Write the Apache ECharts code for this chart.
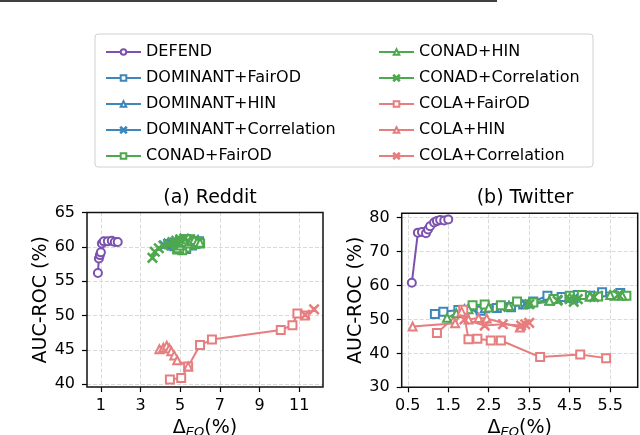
<!DOCTYPE html>
<html>
<head>
<meta charset="utf-8">
<script src="https://cdn.jsdelivr.net/npm/echarts@6/dist/echarts.min.js"></script>
<style>html,body{margin:0;padding:0;background:#fff}#c{width:640px;height:435px}</style>
</head>
<body>
<div id="c"></div>
<script>
// ---- names / ticks ----
var methods = ['DEFEND','DOMINANT+FairOD','DOMINANT+HIN','DOMINANT+Correlation','CONAD+FairOD','CONAD+HIN','CONAD+Correlation','COLA+FairOD','COLA+HIN','COLA+Correlation'];
var redditXTicks = [1,3,5,7,9,11];
var redditYTicks = [40,45,50,55,60,65];
var twitterXTicks = [0.5,1.5,2.5,3.5,4.5,5.5];
var twitterYTicks = [30,40,50,60,70,80];

// ---- Reddit data [ΔEO, AUC-ROC] ----
var redditDEFEND = [[0.85,56.2],[0.9,58.3],[0.95,58.8],[1.0,59.2],[1.05,60.5],[1.15,60.8],[1.35,60.8],[1.55,60.9],[1.7,60.7],[1.85,60.7]];
var redditDominantFairOD = [[4.4,60.4],[4.7,60.1],[5.0,59.8],[5.3,59.7],[5.6,60.2],[5.8,60.5],[5.95,60.8]];
var redditDominantHIN = [[4.5,60.5],[4.8,60.2],[5.0,60.3],[5.3,60.6],[5.6,60.8],[5.9,61.0]];
var redditDominantCorr = [[4.2,60.2],[4.4,60.5],[4.7,60.6],[5.0,60.9],[5.3,61.1]];
var redditConadFairOD = [[4.85,59.6],[4.95,60.0],[5.05,60.4],[5.15,60.8],[5.3,61.1],[5.5,61.1],[5.7,60.9],[5.9,60.7],[6.0,60.5],[5.75,60.4],[5.5,60.3],[5.3,59.9],[5.1,59.5],[4.95,59.7]];
var redditConadHIN = [[4.85,59.8],[5.0,60.2],[5.1,60.6],[5.25,60.7],[5.4,60.5],[5.55,60.8],[5.7,61.0],[5.85,60.7],[6.0,60.6]];
var redditConadCorr = [[3.6,58.4],[3.72,59.3],[3.92,59.8],[4.15,60.2],[4.4,60.4],[4.6,60.7],[4.8,60.9],[5.0,61.1],[5.2,61.2]];
var redditColaFairOD = [[4.48,40.7],[5.05,40.9],[5.4,42.6],[6.0,45.7],[6.6,46.5],[10.07,47.9],[10.66,48.6],[10.91,50.3],[11.28,50.0]];
var redditColaHIN = [[3.95,45.1],[4.15,45.3],[4.32,45.6],[4.45,45.2],[4.55,44.8],[4.7,44.2],[4.85,43.5],[5.4,42.6]];
var redditColaCorr = [[11.3,50.1],[11.75,50.9]];

// ---- Twitter data [ΔEO, AUC-ROC] ----
var twitterDEFEND = [[0.6,60.8],[0.75,75.6],[0.85,75.8],[0.95,75.4],[1.0,76.5],[1.05,77.5],[1.15,78.6],[1.22,79.0],[1.3,79.3],[1.4,79.2],[1.5,79.5]];
var twitterDominantFairOD = [[1.17,51.6],[1.38,52.3],[1.75,52.8],[2.3,52.6],[2.7,53.4],[3.05,53.6],[3.35,54.4],[3.6,55.3],[3.95,57.0],[4.3,56.6],[4.7,57.2],[5.0,57.0],[5.3,58.0],[5.75,57.8]];
var twitterDominantHIN = [[1.9,53.0],[2.4,53.3],[3.0,54.0],[3.5,54.8],[4.0,55.6],[4.5,56.4],[5.0,56.8],[5.6,57.2]];
var twitterDominantCorr = [[2.1,53.2],[2.8,53.7],[3.4,54.6],[4.2,55.8],[4.6,56.2],[5.2,57.0]];
var twitterConadFairOD = [[2.1,54.2],[2.4,54.4],[2.8,54.2],[3.2,55.3],[3.6,55.0],[4.1,56.0],[4.5,57.0],[4.8,57.2],[5.2,56.8],[5.6,57.0],[5.9,57.0]];
var twitterConadHIN = [[1.47,50.5],[1.7,51.8],[2.0,53.0],[2.5,53.5],[3.0,54.0],[3.5,54.8],[4.0,55.5],[4.5,56.5],[5.0,56.8],[5.5,57.2],[5.8,57.0]];
var twitterConadCorr = [[3.5,54.5],[4.2,55.5],[4.5,56.0],[4.6,55.2],[4.7,56.0],[5.1,56.6],[5.7,57.3]];
var twitterColaFairOD = [[1.22,46.0],[1.87,52.9],[2.0,44.2],[2.22,44.3],[2.55,43.8],[2.8,43.8],[3.77,38.9],[4.76,39.7],[5.4,38.6]];
var twitterColaHIN = [[0.62,47.9],[1.67,48.9],[1.83,52.3],[2.0,50.0],[2.25,50.4],[2.45,50.3],[3.27,47.6]];
var twitterColaCorr = [[1.9,50.0],[2.4,48.2],[2.85,48.6],[3.3,48.2],[3.4,48.6],[3.5,49.0]];

var redditData = [redditDEFEND,redditDominantFairOD,redditDominantHIN,redditDominantCorr,redditConadFairOD,redditConadHIN,redditConadCorr,redditColaFairOD,redditColaHIN,redditColaCorr];
var twitterData = [twitterDEFEND,twitterDominantFairOD,twitterDominantHIN,twitterDominantCorr,twitterConadFairOD,twitterConadHIN,twitterConadCorr,twitterColaFairOD,twitterColaHIN,twitterColaCorr];

var PURPLE='#7b52ae', BLUE='#3f87bb', GREEN='#4ea84e', PINK='#e67d7e';
var colors = [PURPLE,BLUE,BLUE,BLUE,GREEN,GREEN,GREEN,PINK,PINK,PINK];
var XSYM = 'path://M0.8,0L5,4.2L9.2,0L10,0.8L5.8,5L10,9.2L9.2,10L5,5.8L0.8,10L0,9.2L4.2,5L0,0.8Z';
var symbols = ['emptyCircle','emptyRect','emptyTriangle',XSYM,'emptyRect','emptyTriangle',XSYM,'emptyRect','emptyTriangle',XSYM];
var FONT = 'DejaVu Sans';

function mkSeries(data, gi){
  return data.map(function(d,i){
    var isX = symbols[i] === XSYM;
    return {
      name: methods[i], type:'line', xAxisIndex:gi, yAxisIndex:gi, data:d,
      symbol: symbols[i], symbolSize: isX ? 9 : 8, showAllSymbol:true,
      lineStyle:{color:colors[i], width:2},
      itemStyle:{color:colors[i], borderColor:colors[i], borderWidth:1.5},
      emphasis:{disabled:true}, animation:false
    };
  });
}

function xAxis(gi, min, max, ticks){
  return {type:'value', gridIndex:gi, min:min, max:max,
    name:'{d|Δ}{s|EO}{d|(%)}', nameLocation:'middle', nameGap:30,
    nameTextStyle:{rich:{d:{fontSize:19,fontFamily:FONT,color:'#000'}, s:{fontSize:13,fontFamily:FONT,fontStyle:'italic',color:'#000',padding:[9,0,0,0]}}},
    axisLine:{show:false},
    axisTick:{show:true, inside:false, length:5, customValues:ticks, lineStyle:{color:'#000',width:1.2}},
    axisLabel:{customValues:ticks, margin:11, fontSize:16, fontFamily:FONT, color:'#000'},
    splitLine:{show:true, lineStyle:{color:'#d9d9d9', width:1, type:[4,2]}}
  };
}
function yAxis(gi, min, max, ticks){
  return {type:'value', gridIndex:gi, min:min, max:max,
    name:'AUC-ROC (%)', nameLocation:'middle', nameGap:36, nameRotate:90,
    nameTextStyle:{fontSize:19,fontFamily:FONT,color:'#000'},
    axisLine:{show:false},
    axisTick:{show:true, inside:false, length:5, customValues:ticks, lineStyle:{color:'#000',width:1.2}},
    axisLabel:{customValues:ticks, margin:12, fontSize:16, fontFamily:FONT, color:'#000'},
    splitLine:{show:true, lineStyle:{color:'#d9d9d9', width:1, type:[4,2]}}
  };
}

var chart = echarts.init(document.getElementById('c'), null, {renderer:'canvas'});
chart.setOption({
  backgroundColor:'#fff',
  animation:false,
  title:[
    {text:'(a) Reddit', left:205, top:184, textAlign:'center', textStyle:{fontSize:19,fontWeight:'normal',fontFamily:FONT,color:'#000'}},
    {text:'(b) Twitter', left:520, top:184, textAlign:'center', textStyle:{fontSize:19,fontWeight:'normal',fontFamily:FONT,color:'#000'}}
  ],
  legend:[
    {data:methods.slice(0,5), orient:'vertical', left:100, top:39, itemWidth:35, itemHeight:7, itemGap:10,
     textStyle:{fontSize:16,fontFamily:FONT,color:'#000',lineHeight:16}, selectedMode:false},
    {data:methods.slice(5), orient:'vertical', left:373, top:39, itemWidth:35, itemHeight:7, itemGap:10,
     textStyle:{fontSize:16,fontFamily:FONT,color:'#000',lineHeight:16}, selectedMode:false}
  ],
  grid:[
    {left:87, top:212.5, width:236, height:174.5, show:false, outerBoundsMode:'none'},
    {left:401.7, top:213.3, width:236, height:174, show:false, outerBoundsMode:'none'}
  ],
  xAxis:[xAxis(0,0.3,12.2,redditXTicks), xAxis(1,0.35,6.18,twitterXTicks)],
  yAxis:[yAxis(0,39.6,65,redditYTicks), yAxis(1,30,81.3,twitterYTicks)],
  graphic:[
    {type:'line', shape:{x1:0,y1:1,x2:497,y2:1}, style:{stroke:'#000',lineWidth:1.5}, silent:true},
    {type:'rect', shape:{x:95,y:34,width:498,height:133,r:3}, style:{fill:'none',stroke:'#d0d0d0',lineWidth:1}, silent:true},
    {type:'rect', z:100, shape:{x:87,y:212.5,width:236,height:174.5}, style:{fill:'none',stroke:'#111',lineWidth:1.5}, silent:true},
    {type:'rect', z:100, shape:{x:401.7,y:213.3,width:236,height:174}, style:{fill:'none',stroke:'#111',lineWidth:1.5}, silent:true}
  ],
  series: mkSeries(redditData,0).concat(mkSeries(twitterData,1))
});
</script>
</body>
</html>
